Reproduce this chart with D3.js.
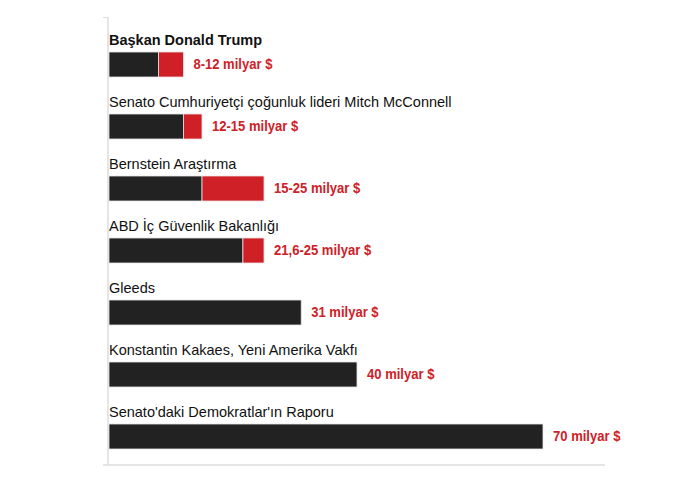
<!DOCTYPE html>
<html>
<head>
<meta charset="utf-8">
<script src="https://cdn.jsdelivr.net/npm/d3@7"></script>
<style>
  body { margin: 0; background: #fff; }
  svg { display: block; }
</style>
</head>
<body>
<svg></svg>
<script>
// Duvar maliyeti tahminleri - yatay çubuk grafik

const width = 700;
const height = 500;

const sources = [
  "Başkan Donald Trump",
  "Senato Cumhuriyetçi çoğunluk lideri Mitch McConnell",
  "Bernstein Araştırma",
  "ABD İç Güvenlik Bakanlığı",
  "Gleeds",
  "Konstantin Kakaes, Yeni Amerika Vakfı",
  "Senato'daki Demokratlar'ın Raporu",
];
const lowValues = [8, 12, 15, 21.6, 31, 40, 70];
const highValues = [12, 15, 25, 25, null, null, null];
const valueLabels = [
  "8-12 milyar $",
  "12-15 milyar $",
  "15-25 milyar $",
  "21,6-25 milyar $",
  "31 milyar $",
  "40 milyar $",
  "70 milyar $",
];

const data = sources.map((s, i) => ({
  name: s,
  low: lowValues[i],
  high: highValues[i],
  label: valueLabels[i],
}));

const svg = d3.select("svg").attr("width", width).attr("height", height);

const xScale = d3.scaleLinear().domain([0, 70]).range([109, 543]);

const yScale = d3
  .scaleBand()
  .domain(sources)
  .range([40, 40 + sources.length * 62]);

// axis lines
svg
  .append("line")
  .attr("x1", 108)
  .attr("x2", 108)
  .attr("y1", 17)
  .attr("y2", 465)
  .attr("stroke", "#dcdcdc")
  .attr("stroke-width", 1.5);

svg
  .append("line")
  .attr("x1", 103)
  .attr("x2", 108)
  .attr("y1", 17.5)
  .attr("y2", 17.5)
  .attr("stroke", "#dcdcdc");

svg
  .append("line")
  .attr("x1", 103)
  .attr("x2", 605)
  .attr("y1", 465)
  .attr("y2", 465)
  .attr("stroke", "#dcdcdc")
  .attr("stroke-width", 1.5);

const rows = svg
  .selectAll(".row")
  .data(data)
  .enter()
  .append("g")
  .attr("class", "row")
  .attr("transform", (d) => "translate(0," + yScale(d.name) + ")");

rows
  .append("text")
  .attr("x", 109)
  .attr("y", 5)
  .attr("font-family", "'Liberation Sans', Arial, sans-serif")
  .attr("font-size", "14.5px")
  .attr("font-weight", (d, i) => (i === 0 ? "bold" : "normal"))
  .attr("fill", "#111")
  .text((d) => d.name);

// black part (lower estimate)
rows
  .append("rect")
  .attr("x", xScale(0))
  .attr("y", 12)
  .attr("width", (d) => xScale(d.low) - xScale(0))
  .attr("height", 25)
  .attr("fill", "#222222")
  .attr("stroke", "#e6e6e6")
  .attr("stroke-width", 0.8);

// red part (range up to higher estimate)
rows
  .filter((d) => d.high !== null)
  .append("rect")
  .attr("x", (d) => xScale(d.low))
  .attr("y", 12)
  .attr("width", (d) => xScale(d.high) - xScale(d.low))
  .attr("height", 25)
  .attr("fill", "#cf2027")
  .attr("stroke", "#f0dede")
  .attr("stroke-width", 0.8);

// condensed bold value labels
rows
  .append("text")
  .attr("transform", (d) => {
    const x = xScale(d.high !== null ? d.high : d.low) + 10;
    return "translate(" + x + ",28.5) scale(0.87,1)";
  })
  .attr("font-family", "'Liberation Sans', Arial, sans-serif")
  .attr("font-size", "15px")
  .attr("font-weight", "bold")
  .attr("fill", "#cf2027")
  .text((d) => d.label);
</script>
</body>
</html>
